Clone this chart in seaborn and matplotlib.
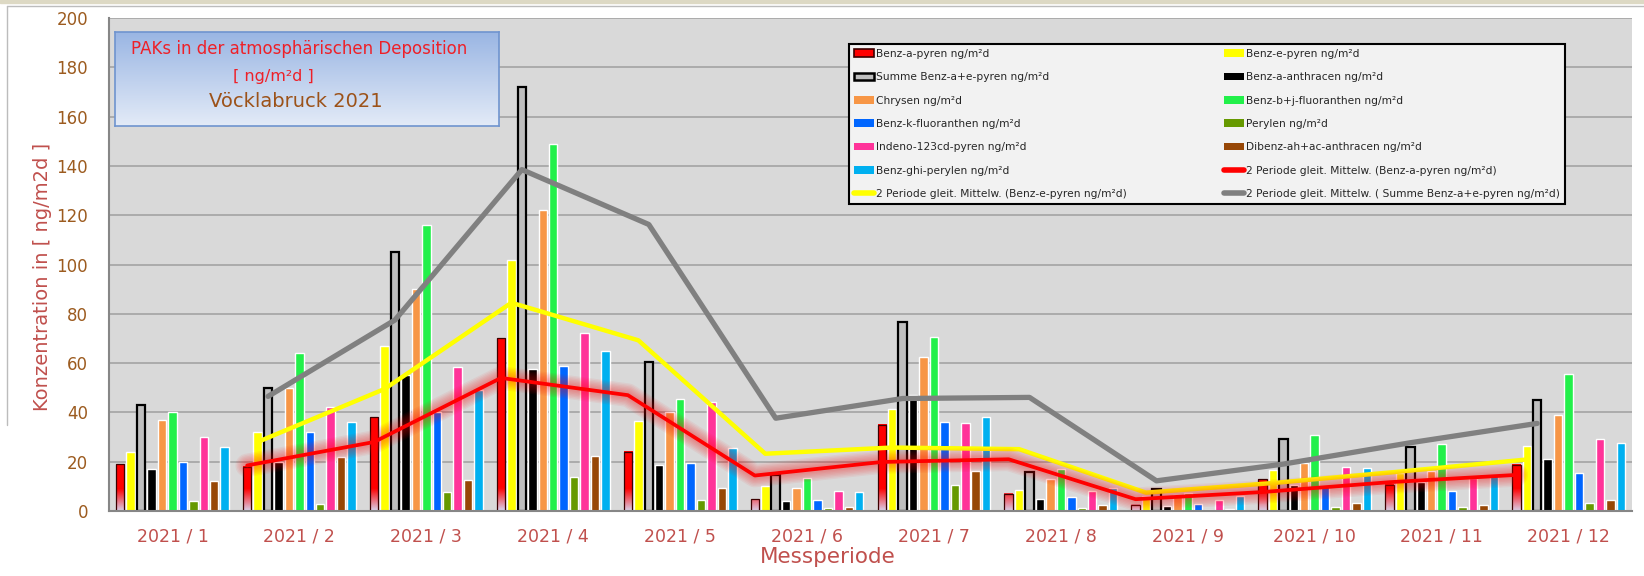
import matplotlib.pyplot as plt
import numpy as np
import pandas as pd
import seaborn as sns
from matplotlib.lines import Line2D
from matplotlib.patches import Patch, Rectangle

sns.set_style('white')
plt.rcParams['font.family'] = ['DejaVu Sans']

# ---------------------------------------------------------------------------------------------------------------------
# Daten, ng/m²d
# ---------------------------------------------------------------------------------------------------------------------
perioden = ['2021 / 1', '2021 / 2', '2021 / 3', '2021 / 4', '2021 / 5', '2021 / 6',
            '2021 / 7', '2021 / 8', '2021 / 9', '2021 / 10', '2021 / 11', '2021 / 12']

benz_a_pyren = [19, 18, 38, 70, 24, 4.8, 35, 7, 2.6, 12.8, 10.6, 18.7]
benz_e_pyren = [24, 32, 67, 102, 36.5, 10, 41.5, 8.7, 6.2, 16.5, 15.5, 26.3]
summe_bap_bep = [43, 50, 105, 172, 60.5, 14.8, 76.5, 15.7, 8.8, 29.3, 26.1, 45]
benz_a_anthracen = [17, 19.8, 55, 57.5, 18.6, 4, 47, 5, 1.9, 10.5, 11.6, 21.3]
chrysen = [37, 50, 90, 122, 40, 9.5, 62.3, 12.8, 6.7, 19.5, 16.2, 39]
benz_bj_fluoranthen = [40, 64, 116, 149, 45.5, 13.2, 70.5, 17, 7.4, 30.8, 27.3, 55.6]
benz_k_fluoranthen = [20, 32, 40, 59, 19.5, 4.3, 36, 5.5, 2.8, 10, 8.1, 15.3]
perylen = [4, 2.8, 7.6, 13.8, 4.3, 1.1, 10.7, 1.2, 0.3, 1.7, 1.6, 3.2]
indeno_pyren = [30, 42, 58.6, 72.2, 44.3, 8.2, 35.8, 8, 4.3, 17.9, 13.5, 29.3]
dibenz_anthracen = [12, 22, 12.6, 22.3, 9.5, 1.6, 16.2, 2.3, 0.7, 3.1, 2.3, 4.4]
benz_ghi_perylen = [26, 36, 49, 65, 25.4, 7.9, 38.3, 9.3, 5.9, 17.6, 14.1, 27.5]

stoffe = ['Benz-a-pyren ng/m²d', 'Benz-e-pyren ng/m²d', 'Summe Benz-a+e-pyren ng/m²d',
          'Benz-a-anthracen ng/m²d', 'Chrysen ng/m²d', 'Benz-b+j-fluoranthen ng/m²d',
          'Benz-k-fluoranthen ng/m²d', 'Perylen ng/m²d', 'Indeno-123cd-pyren ng/m²d',
          'Dibenz-ah+ac-anthracen ng/m²d', 'Benz-ghi-perylen ng/m²d']
farben = ['#ff0000', '#ffff00', '#bfbfbf', '#000000', '#f79646', '#22f04a',
          '#0066ff', '#669900', '#ff3399', '#974706', '#00b0f0']

werte = [benz_a_pyren, benz_e_pyren, summe_bap_bep, benz_a_anthracen, chrysen, benz_bj_fluoranthen,
         benz_k_fluoranthen, perylen, indeno_pyren, dibenz_anthracen, benz_ghi_perylen]

df = pd.DataFrame({'Periode': perioden})
for name, w in zip(stoffe, werte):
    df[name] = w
df_long = df.melt(id_vars='Periode', var_name='Stoff', value_name='Wert')

# ---------------------------------------------------------------------------------------------------------------------
# Plot
# ---------------------------------------------------------------------------------------------------------------------
fig = plt.figure(figsize=(16.44, 5.76), dpi=100)
ax = fig.add_axes([0.0663, 0.1128, 0.9264, 0.8559])
ax.set_facecolor('#d9d9d9')

sns.barplot(data=df_long, x='Periode', y='Wert', hue='Stoff', hue_order=stoffe, palette=farben,
            width=0.905, gap=0.19, errorbar=None, saturation=1, legend=False, ax=ax)

# Benz-a-pyren: Verlauf nach unten ausgebleicht
rot = np.array([1.0, 0.0, 0.0])
lavendel = np.array([0.85, 0.82, 0.92])
for p in ax.containers[0]:
    h = p.get_height()
    ys = np.linspace(0, h, 80)
    t = np.clip(ys / 9.0, 0, 1)[:, None]
    img = (lavendel * (1 - t) + rot * t)[:, None, :]
    ax.imshow(img, extent=(p.get_x(), p.get_x() + p.get_width(), 0, h), origin='lower',
              aspect='auto', interpolation='bilinear', zorder=p.get_zorder() - 0.01)
    p.set_facecolor('none')
    p.set_edgecolor('#3c0000')
    p.set_linewidth(0.9)

for p in ax.containers[2]:
    p.set_edgecolor('black')
    p.set_linewidth(1.6)


def bar_mitten(k):
    return [p.get_x() + p.get_width() / 2 for p in ax.containers[k]]


# 2 Periode gleitender Mittelwert
ma_bap = pd.Series(benz_a_pyren).rolling(2).mean()
ma_bep = pd.Series(benz_e_pyren).rolling(2).mean()
ma_summe = pd.Series(summe_bap_bep).rolling(2).mean()

ax.plot(bar_mitten(2), ma_summe, color='#808080', lw=3.8, solid_capstyle='round', solid_joinstyle='round', zorder=4)
ax.plot(bar_mitten(1), ma_bep, color='#ffff00', lw=3.2, solid_capstyle='round', solid_joinstyle='round', zorder=5)
# Glow
for lw in [17, 15, 13, 11, 9, 7, 5]:
    ax.plot(bar_mitten(0), ma_bap, color='#ff0000', lw=lw, alpha=0.06, solid_capstyle='round',
            solid_joinstyle='round', zorder=6)
ax.plot(bar_mitten(0), ma_bap, color='#ff0000', lw=2.7, solid_capstyle='round', solid_joinstyle='round', zorder=7)

# Achsen
ax.set_xlim(-0.5, 11.5)
ax.set_ylim(0, 200)
ax.set_yticks(range(0, 201, 20))
ax.yaxis.grid(True, color='#a3a3a3', lw=1.2)
ax.set_axisbelow(True)
for s in ['top', 'right']:
    ax.spines[s].set_visible(False)
for s in ['left', 'bottom']:
    ax.spines[s].set_color('#868686')
    ax.spines[s].set_linewidth(1.5)

ax.set_xticks(range(12))
ax.set_xticklabels(perioden)
ax.set_xticks(np.arange(-0.5, 12, 1), minor=True)
ax.tick_params(axis='x', which='major', length=0, pad=12, labelsize=12.5, labelcolor='#c0504d')
ax.tick_params(axis='x', which='minor', length=6, width=1.2, color='#868686')
ax.tick_params(axis='y', length=6, width=1.5, color='#868686', pad=9, labelsize=12, labelcolor='#9c5b1f')

ax.set_xlabel('Messperiode', fontsize=15.5, color='#c0504d')
ax.xaxis.set_label_coords(0.472, -0.073)
ax.set_ylabel('Konzentration in [ ng/m2d ]', fontsize=14, color='#c0504d')
ax.yaxis.set_label_coords(-0.0373, 0.474)

# Titelkasten
tb = ax.inset_axes([0.0041, 0.7813, 0.252, 0.1913])
verlauf = np.linspace(0, 1, 100)[:, None, None]
oben = np.array([0.60, 0.71, 0.89])
unten = np.array([0.89, 0.92, 0.97])
tb.imshow(unten * (1 - verlauf) + oben * verlauf, origin='lower', extent=(0, 1, 0, 1), aspect='auto')
tb.set_xlim(0, 1)
tb.set_ylim(0, 1)
tb.set_xticks([])
tb.set_yticks([])
for s in tb.spines.values():
    s.set_color('#6f94cf')
    s.set_linewidth(1.2)
tb.set_zorder(8)
tb.text(0.478, 0.811, 'PAKs in der atmosphärischen Deposition', ha='center', va='center', fontsize=12, color='#ee2028')
tb.text(0.413, 0.523, '[ ng/m²d ]', ha='center', va='center', fontsize=11.5, color='#ee2028')
tb.text(0.471, 0.256, 'Vöcklabruck 2021', ha='center', va='center', fontsize=14, color='#9c5219')

# Legende
handles = [Patch(facecolor='#ff0000', edgecolor='#3c0000', lw=1.2)]
for f in farben[1:]:
    handles.append(Patch(facecolor=f, edgecolor=f, lw=0))
handles[2] = Patch(facecolor='#bfbfbf', edgecolor='black', lw=1.8, joinstyle='round')
handles += [Line2D([0], [0], color='#ff0000', lw=4, solid_capstyle='round'),
            Line2D([0], [0], color='#ffff00', lw=4, solid_capstyle='round'),
            Line2D([0], [0], color='#808080', lw=4, solid_capstyle='round')]
labels = stoffe + ['2 Periode gleit. Mittelw. (Benz-a-pyren ng/m²d)',
                   '2 Periode gleit. Mittelw. (Benz-e-pyren ng/m²d)',
                   '2 Periode gleit. Mittelw. ( Summe Benz-a+e-pyren ng/m²d)']
# Zeilenweise Reihenfolge wie im Original
handles = handles[0::2] + handles[1::2]
labels = labels[0::2] + labels[1::2]
leg = ax.legend(handles, labels, loc='upper left', bbox_to_anchor=(0.5164, 0.6424, 0.4355, 0.2812),
                bbox_transform=fig.transFigure, mode='expand', ncol=2, fontsize=7.7, frameon=True,
                fancybox=False, framealpha=1, facecolor='#f2f2f2', edgecolor='black',
                handlelength=1.9, handleheight=0.75, handletextpad=0.2, labelspacing=1.25,
                borderpad=0.45, borderaxespad=0)
leg.get_frame().set_linewidth(1.5)
leg.set_zorder(9)

# Rahmen
fig.patches.append(Rectangle((0, 1 - 3 / 576), 1, 3 / 576, transform=fig.transFigure, color='#ddd9c4'))
fig.lines.append(Line2D([6.7 / 1644, 1], [1 - 5.5 / 576] * 2, transform=fig.transFigure, color='#bcbcbc', lw=1))
fig.lines.append(Line2D([6.7 / 1644] * 2, [1 - 5.5 / 576, 1 - 425 / 576], transform=fig.transFigure,
                        color='#bcbcbc', lw=1))

fig.savefig('out.png', dpi=100)
